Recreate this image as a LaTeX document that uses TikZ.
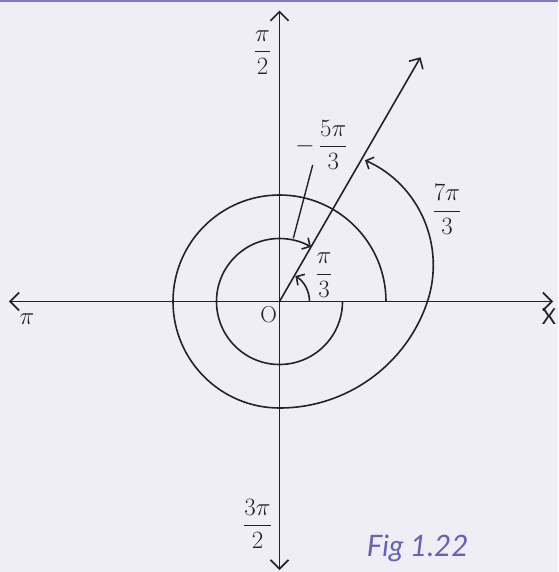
\documentclass[tikz,border=0pt]{standalone}
\usepackage{amsmath}
\usepackage{fontspec}
\usepackage{tikz}
\usetikzlibrary{arrows.meta,positioning}
\newfontfamily\figfont{Lato}
\definecolor{figbg}{RGB}{239,238,247}
\definecolor{figpurple}{RGB}{128,120,200}
\definecolor{figtext}{RGB}{106,96,182}
\definecolor{figink}{RGB}{35,35,38}

\begin{document}
\begin{tikzpicture}[x=1pt, y=1pt, line width=1.6pt, figink,
  axisline/.style={{Straight Barb[length=9pt,width=18pt]}-{Straight Barb[length=9pt,width=18pt]}},
  turnarc/.style={-{Straight Barb[length=6pt,width=13pt]}},
  lbl/.style={font=\fontsize{23}{27}\selectfont, text=figink, inner sep=0pt}]
  % Background and top rule
  \fill[figbg] (-279.5,-270.5) rectangle (278.5,301.5);
  \fill[figpurple] (-279.5,299.8) rectangle (278.5,301.5);
  \useasboundingbox (-279.5,-270.5) rectangle (278.5,301.5);
  % Axes
  \coordinate (O) at (0,0);
  \coordinate (xl) at (-270.5,0);
  \coordinate (xr) at (273.5,0);
  \coordinate (yt) at (0,290.8);
  \coordinate (yb) at (0,-268.5);
  \draw[axisline] (xl) -- (xr);
  \draw[axisline] (yt) -- (yb);
  % Terminal side at pi/3
  \coordinate (ray) at (60:282);
  \draw[-{Straight Barb[length=8pt,width=16pt]}] (O) -- (ray);
  % Angle arcs
  \draw[turnarc] (30,0) arc[start angle=0, end angle=58, radius=30];
  \draw[turnarc] (63,0) arc[start angle=0, end angle=-300, radius=63];
  \draw[turnarc] (106.5,0) arc[start angle=0, end angle=270, radius=106.5]
    arc[start angle=-90, end angle=-19, radius=156]
    arc[start angle=-19, end angle=66, radius=115];
  % Labels
  \node[lbl] (half) at (-16.9,248.8) {$\dfrac{\pi}{2}$};
  \node[lbl] (threehalf) at (-22,-222.5) {$\dfrac{3\pi}{2}$};
  \node[lbl] (third) at (44.5,26.5) {$\dfrac{\pi}{3}$};
  \node[lbl] (negfive) at (42,156.5) {$-\,\dfrac{5\pi}{3}$};
  \node[lbl] (seven) at (167.5,92) {$\dfrac{7\pi}{3}$};
  \node[lbl] (orig) at (-10.8,-13.5) {O};
  \node[lbl] (pil) at (-252.5,-17.5) {$\pi$};
  \node[lbl, font=\figfont\fontsize{22}{26}\selectfont] (xlab) at (269.5,-15.2) {X};
  % Pointer to the clockwise arc
  \coordinate (ptrtop) at (33.2,136.5);
  \coordinate (ptrend) at (13.8,63.2);
  \draw[line width=1.4pt] (ptrtop) -- (ptrend);
  \node[font=\figfont\itshape\fontsize{29.5}{34}\selectfont, text=figtext, anchor=base west, inner sep=0pt] (cap) at (86.5,-254.5) {Fig 1.22};
\end{tikzpicture}
\end{document}
